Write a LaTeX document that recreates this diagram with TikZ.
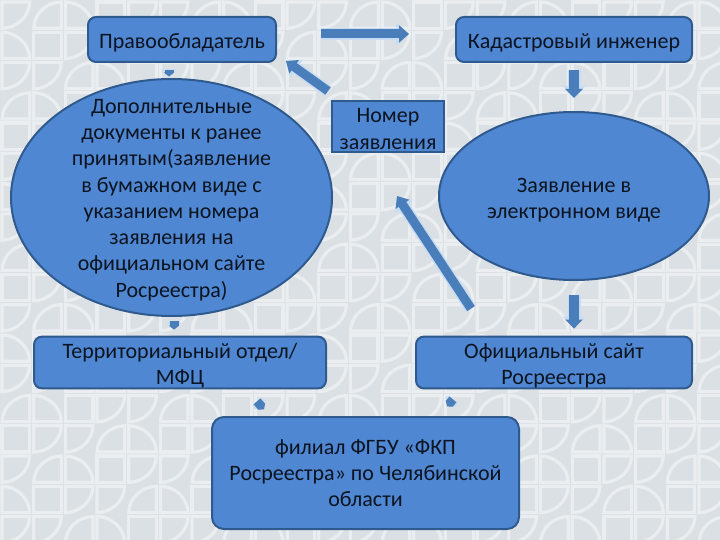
\documentclass[tikz,border=0pt]{standalone}
\usepackage{fontspec}
\setmainfont{Carlito}
\usetikzlibrary{shapes.geometric,arrows.meta}
\definecolor{bgc}{HTML}{DBE0E4}
\definecolor{patc}{HTML}{EBEEF0}
\definecolor{fillc}{HTML}{4F87D3}
\definecolor{edgec}{HTML}{2F5A8E}
\definecolor{arrc}{HTML}{4A7EBB}
\definecolor{glowc}{HTML}{C6DCF3}
\definecolor{txtc}{HTML}{0C1420}
\tikzset{
  x=1pt,y=-1pt,
  patline/.style={draw=patc,line width=3.2pt,line join=miter},
  shapebase/.style={draw=edgec,line width=2pt,fill=fillc,text=txtc,font=\fontsize{22}{26.3}\selectfont,align=center,inner sep=0pt},
  roundbox/.style={shapebase,rectangle,rounded corners=8pt},
  sharpbox/.style={shapebase,rectangle},
  oval/.style={shapebase,ellipse,inner sep=-30pt},
}
\newcommand{\topfix}{\rule{0pt}{22pt}}
\newcommand{\topfixs}{\rule{0pt}{19pt}}
\newcommand{\quarter}{\draw[patline] (2,2) -- (29.6,2) .. controls (29.6,16.5) and (16.5,28.3) .. (2,28.3) -- cycle;}
% #1 from, #2 to, #3 shaft width, #4 head width, #5 head length
\newcommand{\blockarrow}[5]{%
  \draw[glowc,line width=#3pt+3pt,-{Triangle[width=#4pt+5pt,length=#5pt+3pt]}] #1 -- #2;
  \draw[arrc,line width=#3pt,-{Triangle[width=#4pt,length=#5pt]}] #1 -- #2;
}
\begin{document}
\begin{tikzpicture}
\useasboundingbox (0,0) rectangle (720,540);
\fill[bgc] (0,0) rectangle (720,540);
\begin{scope}
\clip (0,0) rectangle (720,540);
\foreach \r in {0,...,17}{
  \foreach \c in {0,...,22}{
    \pgfmathtruncatemacro{\idx}{mod(\c+2*\r+24,5)}
    \pgfmathsetmacro{\px}{\c*31.68}
    \pgfmathsetmacro{\py}{\r*30.27}
    \pgfmathsetmacro{\qx}{\px+31.68}
    \pgfmathsetmacro{\qy}{\py+30.27}
    \ifcase\idx
      \begin{scope}[shift={(\qx,\qy)},xscale=-1,yscale=-1]\quarter\end{scope}
    \or
      \begin{scope}[shift={(\px,\qy)},yscale=-1]\quarter\end{scope}
    \or
      \begin{scope}[shift={(\px,\py)}]\draw[patline] (2,2) rectangle (29.6,28.3);\end{scope}
    \else
      \begin{scope}[shift={(\px,\py)}]\quarter\end{scope}
    \fi
  }
}
\end{scope}
\node[roundbox,minimum width=188pt,minimum height=45pt] (pravo) at (182,39.5) {\topfix Правообладатель};
\node[roundbox,minimum width=236pt,minimum height=45pt] (kad) at (574,39.5) {\topfix Кадастровый инженер};
\node[oval,minimum width=321pt,minimum height=237pt] (dop) at (171.5,197.5) {\topfixs Дополнительные\\документы к ранее\\принятым(заявление\\в бумажном виде с\\указанием номера\\заявления на\\официальном сайте\\Росреестра)};
\node[sharpbox,minimum width=112pt,minimum height=51pt] (nomer) at (388,126.5) {\topfixs Номер\\заявления};
\node[oval,minimum width=270pt,minimum height=168pt] (zayav) at (574,196) {\topfix Заявление в\\электронном виде};
\node[roundbox,minimum width=292pt,minimum height=51pt] (terr) at (180,362.5) {\topfix Территориальный отдел/\\МФЦ};
\node[roundbox,minimum width=276pt,minimum height=51pt] (ofic) at (554,362.5) {\topfix Официальный сайт\\Росреестра};
\node[roundbox,minimum width=307pt,minimum height=112pt,rounded corners=12pt] (fil) at (365.5,473) {филиал ФГБУ «ФКП\\Росреестра» по Челябинской\\области};
\blockarrow{([shift={(44,-5.5)}]pravo.east)}{([shift={(-46,-5.5)}]kad.west)}{9}{17}{10}
\blockarrow{([shift={(0,7)}]kad.south)}{([shift={(0,-13)}]zayav.north)}{10}{17}{9}
\blockarrow{([shift={(0,14)}]zayav.south)}{([shift={(20,-7)}]ofic.north)}{10}{17}{9}
\blockarrow{([shift={(-3,-9)}]nomer.north west)}{([shift={(9,-2)}]pravo.south east)}{9}{16}{10}
\blockarrow{([shift={(56,-27)}]ofic.north west)}{([shift={(9,43)}]nomer.south)}{9}{16}{10}
\blockarrow{([shift={(-13,7)}]pravo.south)}{([shift={(-13,13.5)}]pravo.south)}{9}{10}{4}
\blockarrow{([shift={(-6,-15)}]terr.north)}{([shift={(-6,-6)}]terr.north)}{9}{10}{4}
\blockarrow{([shift={(-70,12)}]terr.south east)}{([shift={(-63,20)}]terr.south east)}{9}{10}{4}
\blockarrow{([shift={(38,10)}]ofic.south west)}{([shift={(32,17)}]ofic.south west)}{9}{10}{4}
\end{tikzpicture}
\end{document}
